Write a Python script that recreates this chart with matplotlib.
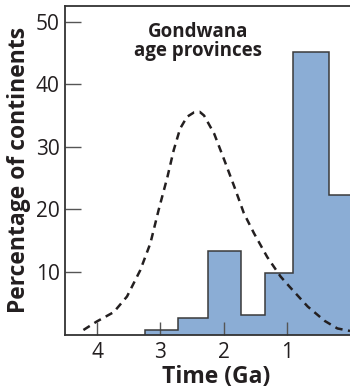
import matplotlib.pyplot as plt

# histogram of Gondwana age provinces (Ga), step outline
bin_edges = [3.25, 2.73, 2.24, 1.73, 1.34, 0.91, 0.33, -0.1]
percent = [0.7, 2.7, 13.4, 3.1, 9.8, 45.1, 22.3]

# dashed reference curve
curve_t = [4.22, 4.01, 3.74, 3.53, 3.32, 3.16, 3.03, 2.89, 2.79, 2.69, 2.58,
           2.47, 2.38, 2.31, 2.15, 1.99, 1.83, 1.68, 1.52, 1.31, 1.10, 0.96,
           0.67, 0.40, 0.20, 0.0]
curve_v = [0.75, 2.1, 3.6, 6.1, 10.3, 14.6, 19.9, 25.2, 29.5, 32.9, 34.8,
           35.5, 35.6, 35.0, 32.1, 27.9, 23.6, 19.4, 16.2, 12.4, 9.3, 7.7,
           4.5, 2.2, 1.0, 0.6]

xticks = [4, 3, 2, 1]
yticks = [10, 20, 30, 40, 50]

plt.rcParams['font.family'] = ['Open Sans', 'DejaVu Sans']
ink = '#231f20'

fig = plt.figure(figsize=(3.5, 3.91), dpi=100)
ax = fig.add_axes([0.186, 0.144, 0.814, 0.8407])

edges = bin_edges[::-1]
vals = percent[::-1]
ax.stairs(vals, edges, fill=True, color='#8badd5', baseline=0, zorder=1)
ax.stairs(vals, edges, color='#3a3a3a', linewidth=1.1, baseline=0, zorder=2)

ax.plot(curve_t, curve_v, color=ink, linestyle=(0, (3.0, 2.2)), linewidth=1.8, zorder=3)

ax.text(2.41, 50.0, 'Gondwana\nage provinces', ha='center', va='top',
        fontsize=13.5, fontweight='bold', color=ink, linespacing=0.95)

ax.set_xlim(4.51, 0.0)
ax.set_ylim(0, 52.5)
ax.set_xticks(xticks)
ax.set_yticks(yticks)
ax.tick_params(direction='in', width=1.0, color='#555555',
               labelsize=15, labelcolor=ink)
ax.tick_params(axis='y', pad=4, length=11.5)
ax.tick_params(axis='x', pad=5, length=9.5)

ax.set_ylabel('Percentage of continents', fontsize=16.5, fontweight='bold', color=ink)
ax.set_xlabel('Time (Ga)', fontsize=16.5, fontweight='bold', color=ink)
ax.yaxis.set_label_coords(-0.12, 0.5)
ax.xaxis.set_label_coords(0.53, -0.093)

ax.spines['right'].set_visible(False)
for s in ['left', 'bottom', 'top']:
    ax.spines[s].set_linewidth(1.3)
    ax.spines[s].set_color('#333333')

fig.savefig('out.png', dpi=100)
